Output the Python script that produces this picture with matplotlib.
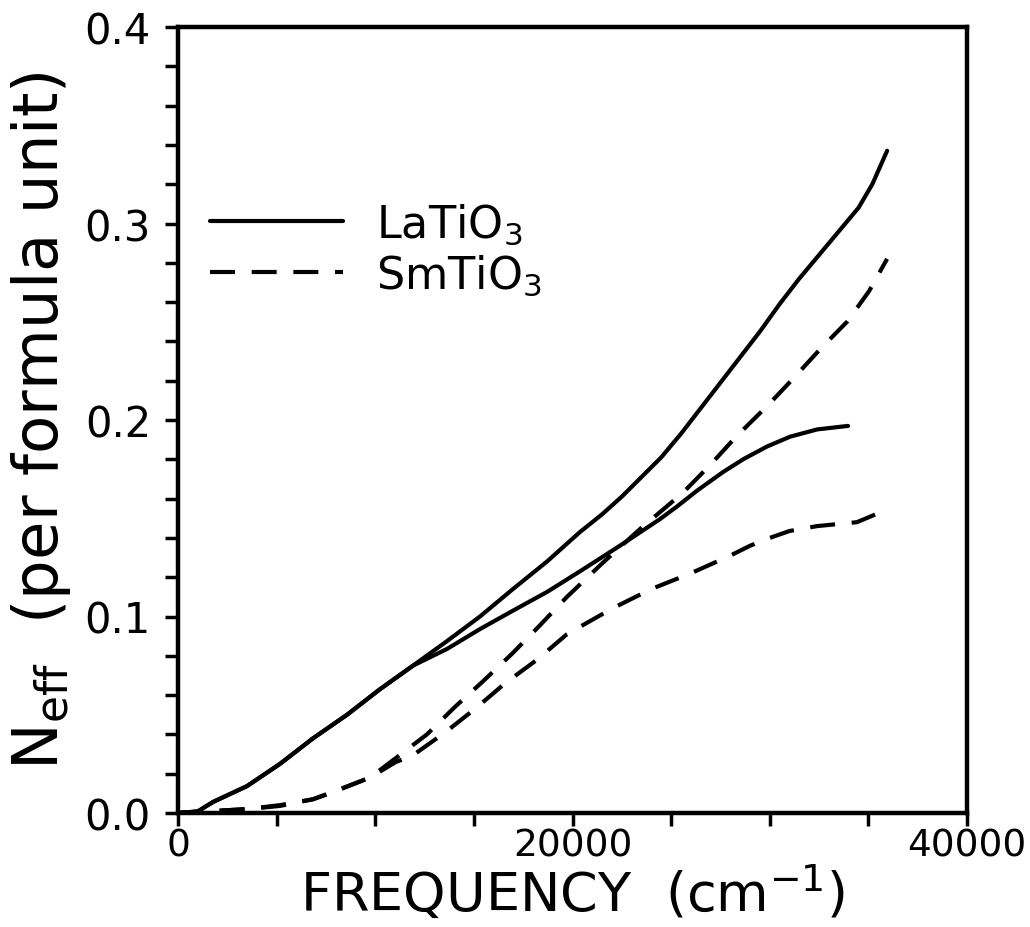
import matplotlib
matplotlib.use("Agg")
import matplotlib.pyplot as plt
from matplotlib.ticker import MultipleLocator

# ---- data ----
la_upper_x = [0, 1000, 1775, 3500, 5170, 6845, 8570, 10240, 11915, 13640, 15310, 16985,
              18710, 20380, 21500, 22500, 23500, 24500, 25500, 26500, 27500, 28500,
              29500, 30500, 31500, 32500, 33500, 34500, 35200, 35950]
la_upper_y = [0.0, 0.0008, 0.0056, 0.0137, 0.025, 0.038, 0.050, 0.063, 0.075, 0.0875, 0.100, 0.114,
              0.128, 0.143, 0.152, 0.161, 0.171, 0.181, 0.193, 0.206, 0.219, 0.232,
              0.245, 0.259, 0.272, 0.284, 0.296, 0.308, 0.320, 0.337]

la_lower_x = [0, 1000, 1775, 3500, 5170, 6845, 8570, 10240, 11915, 13640, 15310, 16985,
              18710, 20380, 22400, 24440, 25300, 26310, 27630, 28650, 29860, 31030,
              32400, 33970]
la_lower_y = [0.0, 0.0008, 0.0056, 0.0137, 0.025, 0.038, 0.050, 0.063, 0.075, 0.0835, 0.0936, 0.103,
              0.1125, 0.123, 0.136, 0.1496, 0.156, 0.164, 0.1735, 0.180, 0.1865, 0.1915,
              0.1952, 0.197]

sm_upper_x = [0, 1775, 3500, 5170, 6845, 7860, 9730, 11050, 12620, 14040, 15460, 16930,
              18300, 19720, 21500, 23420, 25600, 26970, 28340, 29860, 31180,
              32550, 33920, 35030, 35950]
sm_upper_y = [0.0, 0.001, 0.002, 0.004, 0.007, 0.0107, 0.018, 0.028, 0.040, 0.054, 0.067, 0.081,
              0.095, 0.110, 0.127, 0.1445, 0.163, 0.177, 0.192, 0.207, 0.221,
              0.236, 0.250, 0.2655, 0.282]

sm_lower_x = [0, 1775, 3500, 5170, 6845, 7860, 9730, 11050, 11860, 13540, 15060, 16580,
              18200, 19720, 22000, 24000, 26000, 28000, 29000, 30000, 31000, 32400, 34420, 35850]
sm_lower_y = [0.0, 0.001, 0.002, 0.0036, 0.007, 0.0107, 0.018, 0.026, 0.029, 0.041, 0.053, 0.066,
              0.078, 0.091, 0.104, 0.114, 0.122, 0.131, 0.136, 0.140, 0.1435, 0.146, 0.148, 0.154]

labels = ["LaTiO$_3$", "SmTiO$_3$"]
xticks_major = [0, 20000, 40000]
yticks_major = [0.0, 0.1, 0.2, 0.3, 0.4]

# ---- figure ----
plt.rcParams['font.family'] = ['DejaVu Sans']
fig = plt.figure(figsize=(10.30, 9.28), dpi=100)
ax = fig.add_axes([178/1030, (928-814)/928, (967-178)/1030, (814-28)/928])

lw = 3.0
dash = (6, 4)
l1, = ax.plot(la_upper_x, la_upper_y, color='black', lw=lw, solid_capstyle='round',
              solid_joinstyle='round')
ax.plot(la_lower_x, la_lower_y, color='black', lw=lw, solid_capstyle='round',
        solid_joinstyle='round')
l2, = ax.plot(sm_upper_x, sm_upper_y, color='black', lw=lw, dashes=dash)
ax.plot(sm_lower_x, sm_lower_y, color='black', lw=lw, dashes=dash)

ax.set_xlim(0, 40000)
ax.set_ylim(0.0, 0.4)
ax.set_xticks(xticks_major)
ax.set_xticklabels([str(v) for v in xticks_major])
ax.set_yticks(yticks_major)
ax.set_yticklabels([f"{v:.1f}" for v in yticks_major])
ax.xaxis.set_minor_locator(MultipleLocator(5000))
ax.yaxis.set_minor_locator(MultipleLocator(0.02))
ax.tick_params(which='both', direction='out', width=2.5, length=9.5,
               top=False, right=False)
ax.tick_params(axis='x', pad=1, labelsize=27)
ax.tick_params(axis='y', pad=10, labelsize=30)
for s in ax.spines.values():
    s.set_linewidth(3.2)

ax.set_xlabel("FREQUENCY  (cm$^{-1}$)", fontsize=39, labelpad=0)
ax.set_ylabel("N$_{\\rm eff}$  (per formula unit)", fontsize=45, labelpad=8)

ax.legend([l1, l2], labels, loc='upper left', bbox_to_anchor=(0.04, 0.778),
          frameon=False, fontsize=32, handlelength=3.0, handletextpad=0.75,
          labelspacing=0.15, borderpad=0, borderaxespad=0)

fig.savefig("out.png", dpi=100)
